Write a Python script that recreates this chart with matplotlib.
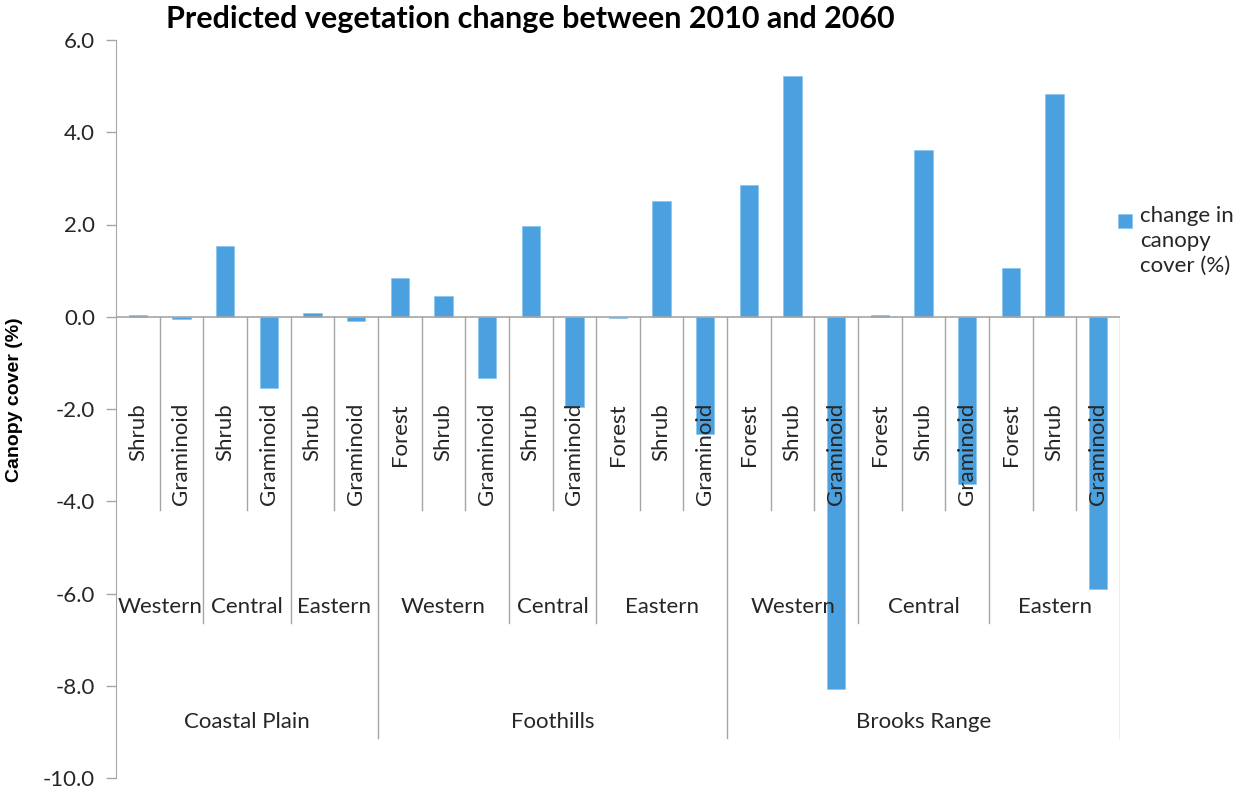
import numpy as np
import matplotlib
matplotlib.use('Agg')
from matplotlib import pyplot as plt
from matplotlib.patches import Rectangle
from matplotlib.ticker import FormatStrFormatter

plt.rcParams['font.family'] = ['Lato', 'DejaVu Sans']

# data, one entry per bar
zone = ['Coastal Plain'] * 6 + ['Foothills'] * 8 + ['Brooks Range'] * 9
region = ['Western', 'Western', 'Central', 'Central', 'Eastern', 'Eastern',
          'Western', 'Western', 'Western', 'Central', 'Central', 'Eastern', 'Eastern', 'Eastern',
          'Western', 'Western', 'Western', 'Central', 'Central', 'Central', 'Eastern', 'Eastern', 'Eastern']
vegetation = ['Shrub', 'Graminoid', 'Shrub', 'Graminoid', 'Shrub', 'Graminoid',
              'Forest', 'Shrub', 'Graminoid', 'Shrub', 'Graminoid', 'Forest', 'Shrub', 'Graminoid',
              'Forest', 'Shrub', 'Graminoid', 'Forest', 'Shrub', 'Graminoid', 'Forest', 'Shrub', 'Graminoid']
change = [0.03, -0.04, 1.53, -1.54, 0.08, -0.09,
          0.85, 0.45, -1.32, 1.97, -1.95, -0.03, 2.52, -2.54,
          2.85, 5.22, -8.07, 0.03, 3.61, -3.62, 1.06, 4.84, -5.91]

yticks = np.arange(-10, 7, 2)
bar_color = '#4ba1df'
line_color = '#a6a6a6'
text_color = '#262626'
label_size = 16

fig = plt.figure(figsize=(12.47, 7.94), dpi=100)
ax = fig.add_axes([116 / 1247., 16 / 794., 1004 / 1247., 738 / 794.])

x = np.arange(len(change))
ax.bar(x, change, width=0.42, color=bar_color, edgecolor='#8cc6ef', linewidth=0.6, zorder=2)

ax.set_xlim(-0.5, len(change) - 0.5)
ax.set_ylim(-10, 6)
ax.set_yticks(yticks)
ax.yaxis.set_major_formatter(FormatStrFormatter('%.1f'))
ax.tick_params(axis='y', length=7, width=1, color=line_color, pad=8,
               labelsize=label_size, labelcolor=text_color)
ax.set_xticks([])
for s in ['top', 'right', 'bottom']:
    ax.spines[s].set_visible(False)
ax.spines['left'].set_color(line_color)

# category axis along zero
ax.plot([-0.5, len(change) - 0.5], [0, 0], color=line_color, lw=1.2, zorder=3)

# separators between categories, longer where a higher level group ends
for i in range(len(change)):
    b = i + 0.5
    if i == len(change) - 1 or zone[i] != zone[i + 1]:
        depth = -9.13
    elif region[i] != region[i + 1]:
        depth = -6.64
    else:
        depth = -4.19
    ax.plot([b, b], [0, depth], color=line_color, lw=1, zorder=1)

# vegetation labels
for i, v in enumerate(vegetation):
    ax.text(i, -1.87, v, rotation=90, ha='center', va='top',
            fontsize=label_size, color=text_color, zorder=4)


def runs(keys):
    out = []
    start = 0
    for i in range(1, len(keys) + 1):
        if i == len(keys) or keys[i] != keys[start]:
            out.append((start, i - 1))
            start = i
    return out


for a, b in runs(list(zip(zone, region))):
    ax.text((a + b) / 2., -6.29, region[a], ha='center', va='center',
            fontsize=label_size, color=text_color, zorder=4)

for a, b in runs(zone):
    ax.text((a + b) / 2., -8.79, zone[a], ha='center', va='center',
            fontsize=label_size, color=text_color, zorder=4)

ax.set_ylabel('Canopy cover (%)', fontsize=14, fontweight='bold', color='black',
              family=['Liberation Sans', 'DejaVu Sans'])
ax.yaxis.set_label_coords(-0.093, 0.513)

fig.text(530 / 1247., 1 - 19 / 794., 'Predicted vegetation change between 2010 and 2060',
         ha='center', va='center', fontsize=22, fontweight='bold', color='black')

# legend
fig.patches.append(Rectangle((1118 / 1247., 1 - 228 / 794.), 14 / 1247., 14 / 794.,
                             transform=fig.transFigure, facecolor=bar_color,
                             edgecolor='#8cc6ef', linewidth=0.6))
fig.text(1140 / 1247., 1 - 206 / 794., 'change in\ncanopy\ncover (%)', ha='left', va='top',
         fontsize=label_size, color=text_color, linespacing=1.3)

fig.savefig('out.png', dpi=100)
